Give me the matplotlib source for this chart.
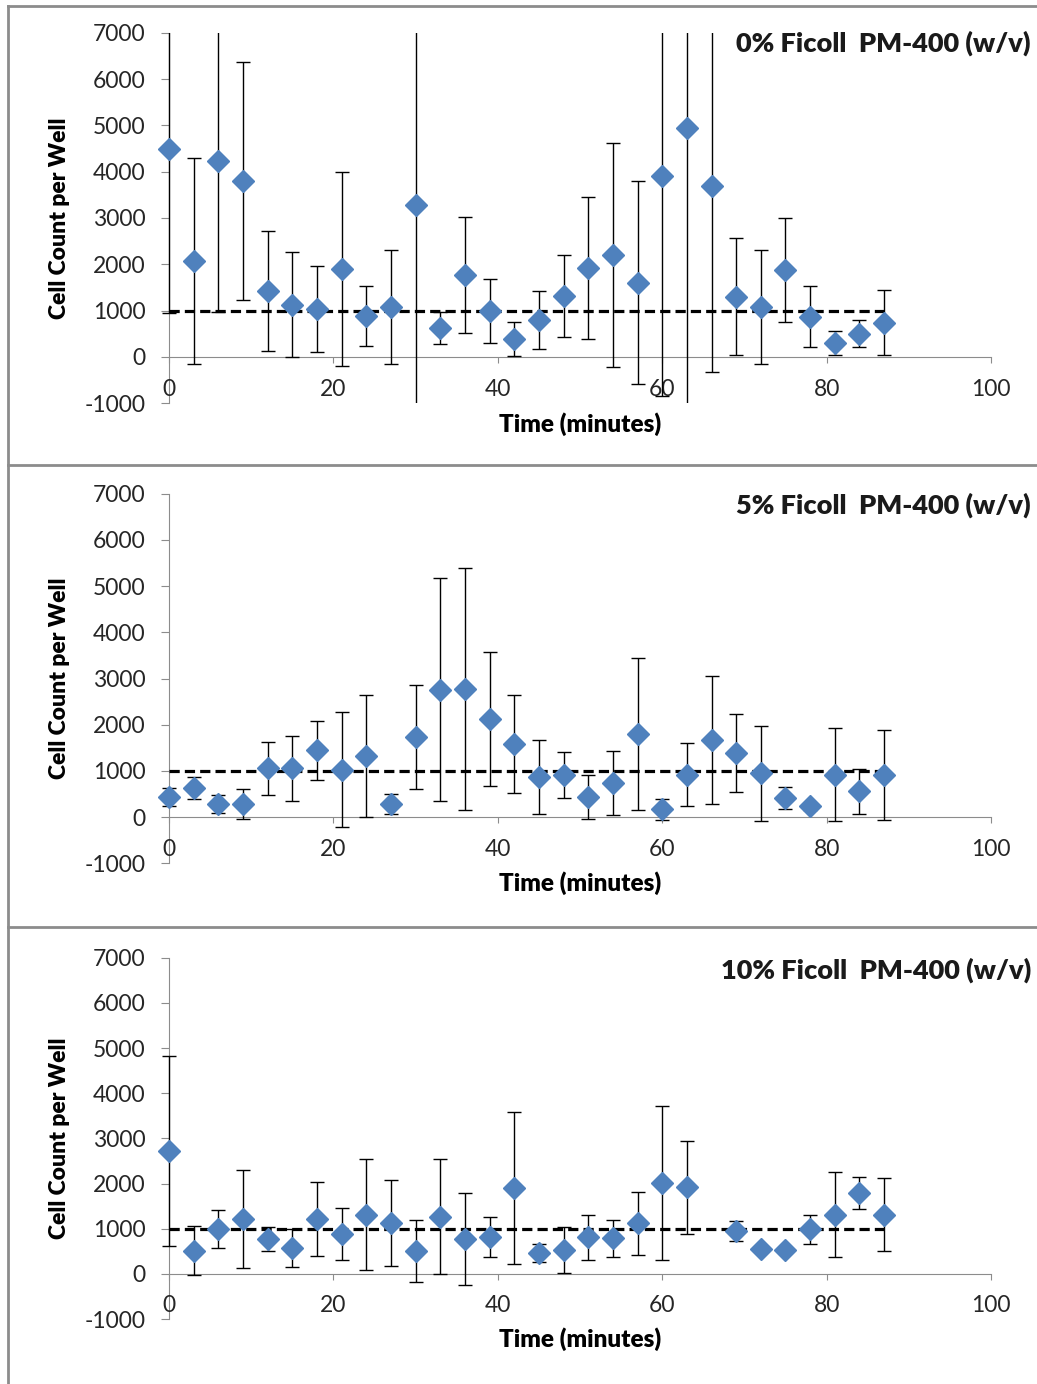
import matplotlib
matplotlib.use("Agg")
import matplotlib.pyplot as plt
from matplotlib.lines import Line2D

plt.rcParams['font.family'] = ['Lato', 'DejaVu Sans']
plt.rcParams['axes.unicode_minus'] = False

# sampling times (minutes)
times = list(range(0, 90, 3))
times_10 = [t for t in times if t != 66]   # no reading at 66 min for 10%

# 0% Ficoll
means_0 = [4490, 2070, 4230, 3800, 1430, 1130, 1040, 1900, 890, 1080,
           3280, 630, 1770, 990, 390, 800, 1320, 1920, 2200, 1600,
           3910, 4950, 3700, 1300, 1070, 1880, 870, 310, 500, 740]
err_0 = [3540, 2230, 3260, 2570, 1300, 1140, 930, 2100, 650, 1230,
         4400, 340, 1250, 690, 360, 630, 890, 1540, 2410, 2190,
         4750, 6000, 4030, 1260, 1230, 1120, 660, 260, 290, 700]

# 5% Ficoll
means_5 = [433, 628, 281, 281, 1053, 1053, 1443, 1025, 1328, 281,
           1732, 2756, 2771, 2128, 1580, 866, 916, 433, 736, 1804,
           166, 916, 1674, 1385, 952, 411, 231, 916, 556, 916]
err_5 = [190, 240, 200, 320, 570, 700, 630, 1240, 1320, 210,
         1130, 2410, 2620, 1450, 1060, 800, 500, 480, 700, 1640,
         220, 680, 1380, 840, 1030, 240, 80, 1010, 490, 970]

# 10% Ficoll
means_10 = [2722, 509, 988, 1217, 767, 568, 1217, 878, 1313, 1128,
            509, 1269, 767, 819, 1896, 457, 531, 811, 789, 1121,
            2006, 1918, 951, 553, 531, 988, 1313, 1785, 1313]
err_10 = [2100, 540, 420, 1090, 265, 420, 820, 570, 1230, 960,
          690, 1270, 1020, 440, 1680, 200, 510, 500, 410, 700,
          1700, 1030, 230, 50, 50, 320, 950, 360, 800]

titles = ["0% Ficoll  PM-400 (w/v)", "5% Ficoll  PM-400 (w/v)", "10% Ficoll  PM-400 (w/v)"]
threshold = 1000
thr_end = 87

W, H = 1037, 1384
fig = plt.figure(figsize=(W / 100, H / 100), dpi=100)

AX_GRAY = '#8c8c8c'
BLUE = '#4F81BD'


def draw_panel(top, bottom, title_y, t, mean, err, title):
    left, right = 144.3, 991
    ax = fig.add_axes([left / W, 1 - bottom / H, (right - left) / W, (bottom - top) / H])
    ax.patch.set_alpha(0)
    ax.set_xlim(-3, 100)
    ax.set_ylim(-1000, 7000)

    ax.plot([0, thr_end], [threshold, threshold], color='black', lw=2.3,
            linestyle=(0, (3.2, 1.6)), zorder=2)
    ax.errorbar(t, mean, yerr=err, fmt='none', ecolor='black', elinewidth=1.0,
                capsize=5, capthick=1.0, zorder=3)
    ax.plot(t, mean, 'D', color=BLUE, mec=BLUE, ms=11.5, clip_on=False, zorder=4)

    for s in ['top', 'right']:
        ax.spines[s].set_visible(False)
    ax.spines['left'].set_position(('data', 0))
    ax.spines['bottom'].set_position(('data', 0))
    ax.spines['left'].set_bounds(-1000, 7000)
    ax.spines['bottom'].set_bounds(0, 100)
    for s in ['left', 'bottom']:
        ax.spines[s].set_color(AX_GRAY)
        ax.spines[s].set_linewidth(0.8)
        ax.spines[s].set_zorder(1)

    ax.set_xticks(range(0, 101, 20))
    ax.set_yticks(range(-1000, 7001, 1000))
    ax.tick_params(axis='y', direction='out', length=5.8, width=0.8, color=AX_GRAY,
                   pad=11, labelsize=16.5, labelcolor='#262626')
    ax.tick_params(axis='x', direction='out', length=4.5, width=0.8, color=AX_GRAY,
                   pad=11, labelsize=16.5, labelcolor='#262626')

    ax.set_ylabel('Cell Count per Well', fontsize=16.5, fontweight='heavy', va='center')
    ax.yaxis.set_label_coords(-0.0996, 0.5)
    ax.set_xlabel('Time (minutes)', fontsize=17.5, fontweight='heavy', va='center')
    ax.xaxis.set_label_coords(0.5146, -0.055)

    fig.text(1031 / W, 1 - title_y / H, title, ha='right', va='center',
             fontsize=19.5, fontweight='heavy', color='#1a1a1a')
    return ax


draw_panel(32.7, 403.3, 43, times, means_0, err_0, titles[0])
draw_panel(493.7, 863.3, 505, times, means_5, err_5, titles[1])
draw_panel(957.7, 1319, 970, times_10, means_10, err_10, titles[2])

# panel frames
for y in [6, 465, 927]:
    fig.add_artist(Line2D([8 / W, 1], [1 - y / H, 1 - y / H], color=AX_GRAY, lw=2))
fig.add_artist(Line2D([8 / W, 8 / W], [1 - 6 / H, 0], color=AX_GRAY, lw=2))

fig.savefig('out.png', dpi=100)
